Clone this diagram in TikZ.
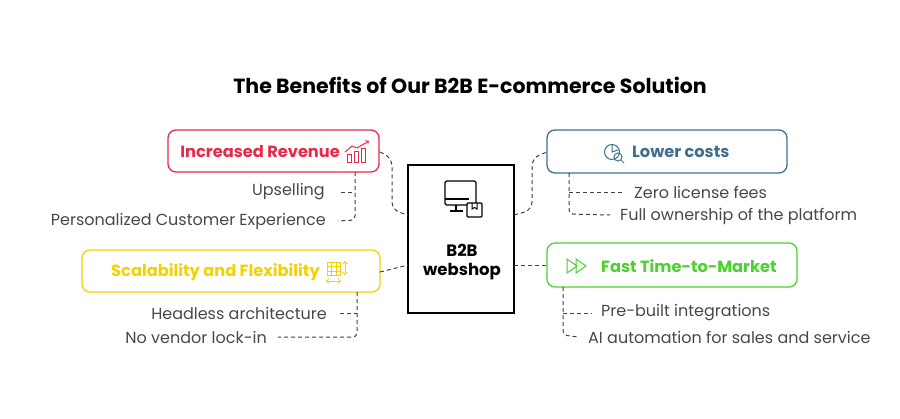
\documentclass[tikz,border=0pt]{standalone}
\usepackage{fontspec}
\setmainfont{Poppins}
\begin{document}
\begin{tikzpicture}[x=1pt,y=-1pt,
  box/.style={draw,line width=1.3pt,rounded corners=8pt,inner sep=0},
  dsh/.style={dash pattern=on 4pt off 3pt,line width=1pt,draw=black!75},
  item/.style={font=\fontsize{16}{18}\selectfont,text=black!72,inner sep=0},
  ttl/.style={font=\bfseries\fontsize{16.2}{19}\selectfont,inner sep=0}]
\definecolor{cred}{HTML}{E8294A}\definecolor{cblue}{HTML}{3F6E8E}
\definecolor{cyel}{HTML}{F2D200}\definecolor{cgrn}{HTML}{4CD22E}
\useasboundingbox (0,0) rectangle (900,418);
\node[font=\bfseries\fontsize{20.5}{24}\selectfont] (title) at (470,85) {The Benefits of Our B2B E-commerce Solution};
% boxes
\draw[box,cred] (168,130) rectangle (379,172);
\node[ttl,text=cred,anchor=east] (t1) at (340,152) {Increased Revenue};
\draw[box,cblue] (547,130) rectangle (787,173);
\node[ttl,text=cblue,anchor=west] (t2) at (632,152) {Lower costs};
\draw[box,cyel] (82,250) rectangle (380,292);
\node[ttl,text=cyel,anchor=east] (t3) at (320,272) {Scalability and Flexibility};
\draw[box,cgrn] (547,243) rectangle (797,287);
\node[ttl,text=cgrn,anchor=west] (t4) at (601,266) {Fast Time-to-Market};
\draw[line width=2.8pt] (408,165) rectangle (514,313);
\node[font=\bfseries\fontsize{16.5}{19}\selectfont,align=center] (c) at (462,262) {B2B\\webshop};
% center icon
\draw[line width=1.1pt,rounded corners=1.5pt] (445,181) rectangle (476,205);
\draw[line width=1.1pt] (445,199)--(469,199) (456,205)--(456,211) (450,211)--(463,211);
\draw[line width=1.1pt,fill=white,rounded corners=1pt] (467,203) rectangle (482,217);
\draw[line width=1pt] (472,203)--(472,209)--(474.5,207.5)--(477,209)--(477,203);
% icons
\draw[cred,line width=1pt] (347,162) rectangle (351,154) (354,162) rectangle (358,151) (361,162) rectangle (365,148);
\draw[cred,line width=1pt,->] (345,152)--(352,146)--(357,148)--(369,141);
\draw[cblue,line width=1pt] (612,152) circle (7.5);
\draw[cblue,line width=1pt] (618,157) circle (4) (621,160)--(624,163);
\draw[cblue,line width=1pt] (612,144.5)--(612,152)--(618,150);
\draw[cyel,line width=1pt] (327,262) rectangle (340,275);
\draw[cyel,line width=0.8pt] (327,266.5)--(340,266.5) (327,271)--(340,271) (331.5,262)--(331.5,275) (336,262)--(336,275);
\draw[cyel,line width=1pt,<->] (345,261)--(345,275);
\draw[cyel,line width=1pt,<->] (326,281)--(341,281);
\draw[cgrn,line width=1pt] (567,259)--(577,266)--(567,273)--cycle (576,259)--(586,266)--(576,273)--cycle;
% connectors
\draw[dsh,rounded corners=8pt] (380,152)--(392,158)--(392,210)--(408,215);
\draw[dsh,rounded corners=8pt] (514,215)--(532,210)--(532,158)--(547,152);
\draw[dsh] (380,272)--(408,265);
\draw[dsh] (514,265)--(547,265);
% items
\node[item,anchor=east] (a1) at (325,192) {Upselling};
\node[item,anchor=east] (a2) at (326,221) {Personalized Customer Experience};
\draw[dsh,rounded corners=4pt] (355,172)--(355,220)--(338,221);
\draw[dsh] (341,192)--(355,192);
\node[item,anchor=west] (b1) at (634,192) {Zero license fees};
\node[item,anchor=west] (b2) at (620,216) {Full ownership of the platform};
\draw[dsh,rounded corners=4pt] (569,173)--(569,214)--(610,215);
\draw[dsh] (569,192)--(622,192);
\node[item,anchor=east] (c1) at (327,313) {Headless architecture};
\node[item,anchor=east] (c2) at (267,337) {No vendor lock-in};
\draw[dsh,rounded corners=4pt] (357,292)--(357,337)--(278,337);
\draw[dsh] (340,313)--(357,313);
\node[item,anchor=west] (d1) at (601,313) {Pre-built integrations};
\node[item,anchor=west] (d2) at (588,337) {AI automation for sales and service};
\draw[dsh,rounded corners=4pt] (563,287)--(563,335)--(578,337);
\draw[dsh] (563,313)--(592,313);
\end{tikzpicture}
\end{document}
